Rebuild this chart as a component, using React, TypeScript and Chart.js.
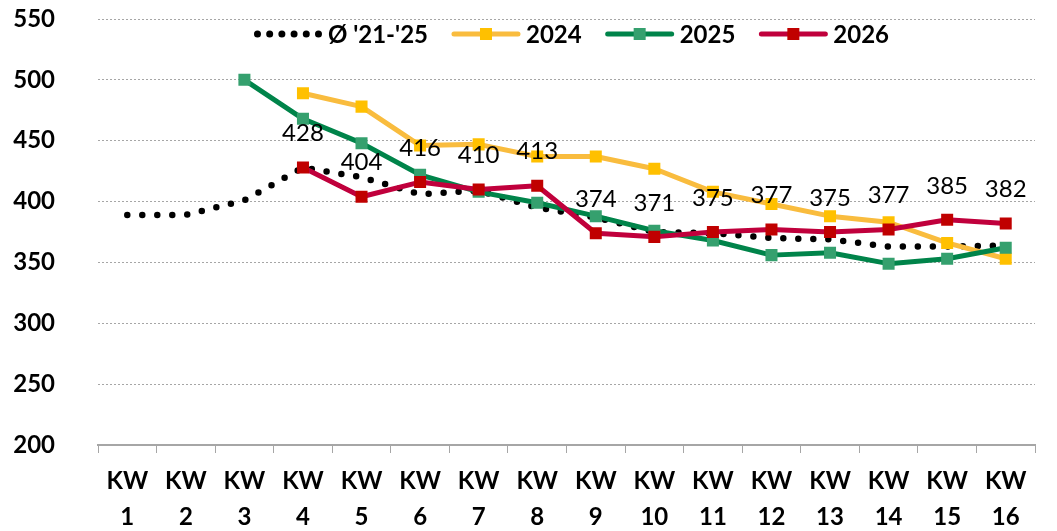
import React, { useEffect, useRef } from 'react';
import { Chart, registerables } from 'chart.js';

Chart.register(...registerables);

const categories: string[][] = [
  ['KW', '1'], ['KW', '2'], ['KW', '3'], ['KW', '4'], ['KW', '5'], ['KW', '6'], ['KW', '7'], ['KW', '8'],
  ['KW', '9'], ['KW', '10'], ['KW', '11'], ['KW', '12'], ['KW', '13'], ['KW', '14'], ['KW', '15'], ['KW', '16'],
];

const avg2125 = [389, 389, 401, 428, 420, 406, 409, 395, 387, 375, 374, 370, 369, 363, 363, 364];
const y2024 = [null, null, null, 489, 478, 446, 447, 437, 437, 427, 408, 398, 388, 383, 366, 353];
const y2025 = [null, null, 500, 468, 448, 422, 408, 399, 388, 376, 368, 356, 358, 349, 353, 362];
const y2026 = [null, null, null, 428, 404, 416, 410, 413, 374, 371, 375, 377, 375, 377, 385, 382];

const seriesNames = ["Ø '21-'25", '2024', '2025', '2026'];
const yMin = 200;
const yMax = 550;
const yStep = 50;

const FONT = 'Lato, "Noto Sans", "DejaVu Sans", sans-serif';

const lineColors = ['#000000', '#F9BC3E', '#00844A', '#C0003C'];
const markerColors = ['#000000', '#FFC000', '#35A06E', '#C00000'];

const dataLabelPlugin = {
  id: 'dataLabels2026',
  afterDatasetsDraw(chart: any) {
    const ctx = chart.ctx;
    const idx = chart.data.datasets.findIndex((d: any) => d.label === '2026');
    const meta = chart.getDatasetMeta(idx);
    ctx.save();
    ctx.font = `normal 24px ${FONT}`;
    ctx.fillStyle = '#000';
    ctx.textAlign = 'center';
    ctx.textBaseline = 'middle';
    meta.data.forEach((pt: any, i: number) => {
      const v = chart.data.datasets[idx].data[i];
      if (v === null || v === undefined) return;
      ctx.fillText(String(v), pt.x, pt.y - 34);
    });
    ctx.restore();
  },
};

const legendPlugin = {
  id: 'customLegend',
  afterDraw(chart: any) {
    const ctx = chart.ctx;
    const area = chart.chartArea;
    const sampleW = 68;
    const gapText = 6;
    const gapItem = 24;
    ctx.save();
    ctx.font = `bold 24px ${FONT}`;
    const widths = seriesNames.map((n) => ctx.measureText(n).width);
    const total = widths.reduce((a, w) => a + sampleW + gapText + w, 0) + gapItem * (seriesNames.length - 1);
    let x = (area.left + area.right) / 2 + 5 - total / 2;
    const y = 34;
    seriesNames.forEach((name, i) => {
      if (i === 0) {
        ctx.fillStyle = '#000';
        for (let k = 0; k < 6; k++) {
          ctx.beginPath();
          ctx.arc(x + 3.5 + k * ((sampleW - 7) / 5), y, 3.5, 0, Math.PI * 2);
          ctx.fill();
        }
      } else {
        ctx.strokeStyle = lineColors[i];
        ctx.lineWidth = 5;
        ctx.lineCap = 'round';
        ctx.beginPath();
        ctx.moveTo(x + 2, y);
        ctx.lineTo(x + sampleW - 2, y);
        ctx.stroke();
        ctx.fillStyle = markerColors[i];
        ctx.fillRect(x + sampleW / 2 - 6, y - 6, 12, 12);
      }
      ctx.fillStyle = '#000';
      ctx.textAlign = 'left';
      ctx.textBaseline = 'middle';
      ctx.fillText(name, x + sampleW + gapText, y + 1);
      x += sampleW + gapText + widths[i] + gapItem;
    });
    ctx.restore();
  },
};

export default function App() {
  const canvasRef = useRef<HTMLCanvasElement | null>(null);

  useEffect(() => {
    if (!canvasRef.current) return;
    const lineDs = (label: string, data: (number | null)[], i: number, order: number) => ({
      label,
      data,
      borderColor: lineColors[i],
      backgroundColor: markerColors[i],
      borderWidth: 5,
      borderJoinStyle: 'round' as const,
      pointStyle: 'rect' as const,
      pointRadius: 8.5,
      pointBackgroundColor: markerColors[i],
      pointBorderColor: markerColors[i],
      pointBorderWidth: 0,
      tension: 0,
      spanGaps: false,
      order,
    });
    const chart = new Chart(canvasRef.current, {
      type: 'line',
      data: {
        labels: categories,
        datasets: [
          {
            label: seriesNames[0],
            data: avg2125,
            borderColor: '#000',
            borderWidth: 6.5,
            borderDash: [0, 15],
            borderCapStyle: 'round',
            pointRadius: 0,
            tension: 0,
            order: 4,
          },
          lineDs(seriesNames[1], y2024, 1, 3),
          lineDs(seriesNames[2], y2025, 2, 2),
          lineDs(seriesNames[3], y2026, 3, 1),
        ],
      },
      options: {
        responsive: false,
        animation: false,
        events: [],
        layout: { padding: { left: 10, right: 22, top: 19, bottom: 0 } },
        plugins: {
          legend: { display: false },
          tooltip: { enabled: false },
          title: { display: false },
        },
        scales: {
          x: {
            type: 'category',
            offset: true,
            grid: {
              offset: true,
              drawOnChartArea: false,
              drawTicks: true,
              tickLength: 8,
              color: '#a6a6a6',
              lineWidth: 1,
            },
            border: { display: true, color: '#a6a6a6', width: 2 },
            ticks: {
              autoSkip: false,
              maxRotation: 0,
              minRotation: 0,
              padding: 10,
              color: '#000',
              font: { family: FONT, size: 24, weight: 'bold', lineHeight: 1.5 },
            },
            afterFit: (s: any) => {
              s.height = 86;
            },
          },
          y: {
            min: yMin,
            max: yMax,
            ticks: {
              stepSize: yStep,
              padding: 0,
              color: '#000',
              font: { family: FONT, size: 24, weight: 'bold' },
            },
            grid: {
              drawTicks: true,
              tickLength: 43,
              tickColor: 'rgba(0,0,0,0)',
              color: (c: any) => (c.tick && c.tick.value === yMin ? 'rgba(0,0,0,0)' : '#a6a6a6'),
              lineWidth: 1,
            },
            border: { display: false, dash: [2, 2] },
            afterFit: (s: any) => {
              s.width = 88;
            },
          },
        },
      },
      plugins: [dataLabelPlugin, legendPlugin],
    });
    return () => chart.destroy();
  }, []);

  return (
    <div style={{ position: 'absolute', left: 0, top: 0, width: 1057, height: 531, background: '#fff' }}>
      <canvas ref={canvasRef} width={1057} height={531} />
    </div>
  );
}
